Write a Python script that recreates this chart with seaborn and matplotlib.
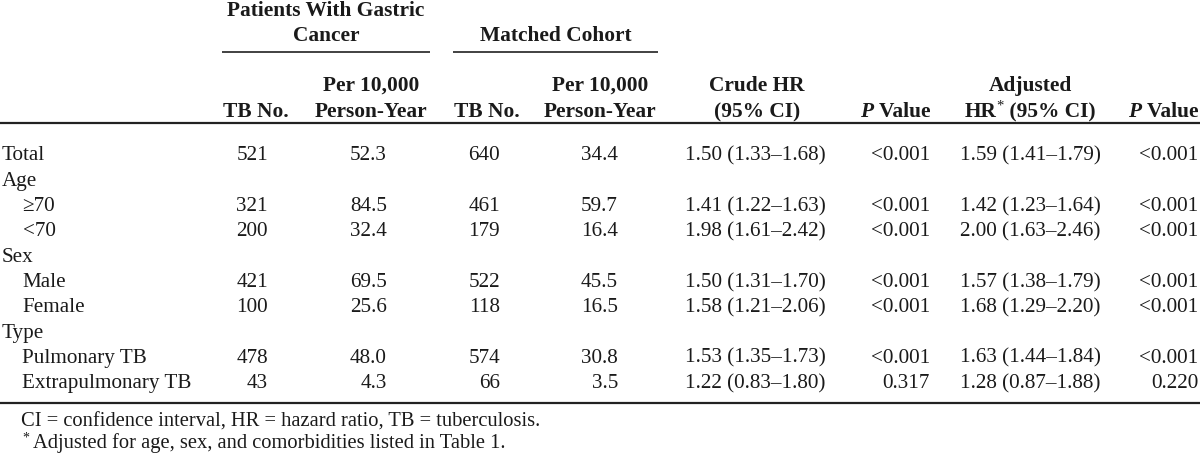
import matplotlib
matplotlib.use("Agg")
import matplotlib.pyplot as plt
import seaborn as sns
import pandas as pd

# ---------------- data ----------------
labels = ["Total", "Age", "\u226570", "<70", "Sex", "Male", "Female", "Type",
          "Pulmonary TB", "Extrapulmonary TB"]
indent = [0, 0, 1, 1, 0, 1, 1, 0, 1, 1]
gc_tb = [521, None, 321, 200, None, 421, 100, None, 478, 43]
gc_rate = [52.3, None, 84.5, 32.4, None, 69.5, 25.6, None, 48.0, 4.3]
mc_tb = [640, None, 461, 179, None, 522, 118, None, 574, 66]
mc_rate = [34.4, None, 59.7, 16.4, None, 45.5, 16.5, None, 30.8, 3.5]
crude_hr = [1.50, None, 1.41, 1.98, None, 1.50, 1.58, None, 1.53, 1.22]
crude_lo = [1.33, None, 1.22, 1.61, None, 1.31, 1.21, None, 1.35, 0.83]
crude_hi = [1.68, None, 1.63, 2.42, None, 1.70, 2.06, None, 1.73, 1.80]
crude_p = ["<0.001", None, "<0.001", "<0.001", None, "<0.001", "<0.001", None, "<0.001", "0.317"]
adj_hr = [1.59, None, 1.42, 2.00, None, 1.57, 1.68, None, 1.63, 1.28]
adj_lo = [1.41, None, 1.23, 1.63, None, 1.38, 1.29, None, 1.44, 0.87]
adj_hi = [1.79, None, 1.64, 2.46, None, 1.79, 2.20, None, 1.84, 1.88]
adj_p = ["<0.001", None, "<0.001", "<0.001", None, "<0.001", "<0.001", None, "<0.001", "0.220"]
footnote1 = "CI = confidence interval, HR = hazard ratio, TB = tuberculosis."
footnote2 = "Adjusted for age, sex, and comorbidities listed in Table 1."

df = pd.DataFrame(dict(label=labels, indent=indent, gc_tb=gc_tb, gc_rate=gc_rate,
                       mc_tb=mc_tb, mc_rate=mc_rate, crude_hr=crude_hr, crude_lo=crude_lo,
                       crude_hi=crude_hi, crude_p=crude_p, adj_hr=adj_hr, adj_lo=adj_lo,
                       adj_hi=adj_hi, adj_p=adj_p))

# ---------------- style ----------------
sns.set_theme(style="white")
plt.rcParams['font.family'] = ['Liberation Serif', 'DejaVu Serif']
TXT = "#1a1a1a"
FS = 15.2
FSB = 15.4
FS_FOOT = 14.8

fig = plt.figure(figsize=(12, 4.59), dpi=100)
ax = fig.add_axes([0, 0, 1, 1])
ax.set_xlim(0, 1200)
ax.set_ylim(459, 0)
ax.axis('off')
fig.canvas.draw()
renderer = fig.canvas.get_renderer()


def twidth(s, **kw):
    t = ax.text(0, 0, s, **kw)
    w = t.get_window_extent(renderer).width
    t.remove()
    return w


def runs(x, y, parts, ha='left'):
    widths = [twidth(s, **kw) for s, kw, dy in parts]
    total = sum(widths)
    if ha == 'left':
        cx = x
    elif ha == 'right':
        cx = x - total
    else:
        cx = x - total / 2
    for (s, kw, dy), w in zip(parts, widths):
        ax.text(cx, y + dy, s, ha='left', va='baseline', color=TXT, **kw)
        cx += w


B = dict(fontsize=FSB, fontweight='bold')
BI = dict(fontsize=FSB, fontweight='bold', fontstyle='italic')
N = dict(fontsize=FS)

# ---------------- header ----------------
hdr_y1, hdr_y2, hdr_y3, hdr_y4 = 16, 41, 91, 117
ax.text(326, hdr_y1, "Patients With Gastric", ha='center', va='baseline', color=TXT, **B)
ax.text(326, hdr_y2, "Cancer", ha='center', va='baseline', color=TXT, **B)
ax.text(556, hdr_y2, "Matched Cohort", ha='center', va='baseline', color=TXT, **B)
ax.plot([222, 430], [52, 52], color="#333333", lw=1.3, solid_capstyle='butt')
ax.plot([453, 658], [52, 52], color="#333333", lw=1.3, solid_capstyle='butt')

ax.text(256, hdr_y4, "TB No.", ha='center', va='baseline', color=TXT, **B)
ax.text(371, hdr_y3, "Per 10,000", ha='center', va='baseline', color=TXT, **B)
ax.text(371, hdr_y4, "Person-Year", ha='center', va='baseline', color=TXT, **B)
ax.text(487, hdr_y4, "TB No.", ha='center', va='baseline', color=TXT, **B)
ax.text(600, hdr_y3, "Per 10,000", ha='center', va='baseline', color=TXT, **B)
ax.text(600, hdr_y4, "Person-Year", ha='center', va='baseline', color=TXT, **B)
ax.text(757, hdr_y3, "Crude HR", ha='center', va='baseline', color=TXT, **B)
ax.text(757, hdr_y4, "(95% CI)", ha='center', va='baseline', color=TXT, **B)
runs(930, hdr_y4, [("P", BI, 0), (" Value", B, 0)], ha='right')
ax.text(1030, hdr_y3, "Adjusted", ha='center', va='baseline', color=TXT, **B)
runs(1030, hdr_y4, [("HR", B, 0), ("*", dict(fontsize=10.5), -7), (" (95% CI)", B, 0)], ha='center')
runs(1198, hdr_y4, [("P", BI, 0), (" Value", B, 0)], ha='right')

ax.axhline(123, color="#222222", lw=1.6)

# ---------------- body ----------------
base0, pitch = 160.5, 25.3
for i, r in df.iterrows():
    y = base0 + pitch * i
    ax.text(2 + 20.5 * r['indent'], y, r['label'], ha='left', va='baseline', color=TXT, **N)
    if pd.isna(r['gc_tb']):
        continue
    ax.text(268, y, f"{int(r['gc_tb'])}", ha='right', va='baseline', color=TXT, **N)
    ax.text(387, y, f"{r['gc_rate']:.1f}", ha='right', va='baseline', color=TXT, **N)
    ax.text(500, y, f"{int(r['mc_tb'])}", ha='right', va='baseline', color=TXT, **N)
    ax.text(618, y, f"{r['mc_rate']:.1f}", ha='right', va='baseline', color=TXT, **N)
    ax.text(755, y, f"{r['crude_hr']:.2f} ({r['crude_lo']:.2f}\u2013{r['crude_hi']:.2f})",
            ha='center', va='baseline', color=TXT, **N)
    ax.text(930, y, r['crude_p'], ha='right', va='baseline', color=TXT, **N)
    ax.text(1030, y, f"{r['adj_hr']:.2f} ({r['adj_lo']:.2f}\u2013{r['adj_hi']:.2f})",
            ha='center', va='baseline', color=TXT, **N)
    ax.text(1198, y, r['adj_p'], ha='right', va='baseline', color=TXT, **N)

ax.axhline(403, color="#222222", lw=1.6)

# ---------------- footnotes ----------------
F = dict(fontsize=FS_FOOT)
ax.text(21, 427, footnote1, ha='left', va='baseline', color=TXT, **F)
ax.text(22, 442, "*", ha='left', va='baseline', color=TXT, fontsize=10)
ax.text(33, 448, footnote2, ha='left', va='baseline', color=TXT, **F)

fig.savefig("out.png", dpi=100, facecolor="white")
